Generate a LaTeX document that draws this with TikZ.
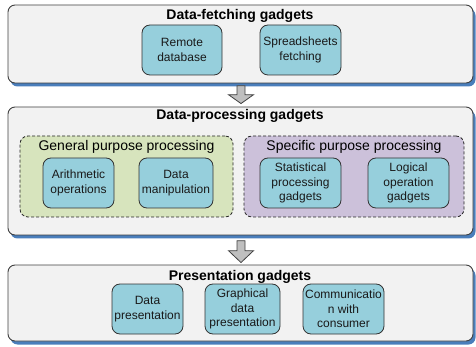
\documentclass[tikz,border=0pt]{standalone}
\usepackage{fontspec}
\setmainfont{Liberation Sans}
\usetikzlibrary{calc}
\definecolor{outerfill}{HTML}{F2F2F2}
\definecolor{outerline}{HTML}{404040}
\definecolor{shadowblue}{HTML}{4A7EBB}
\definecolor{gadgetfill}{HTML}{96CFDC}
\definecolor{greenfill}{HTML}{D7E4BD}
\definecolor{purplefill}{HTML}{CCC1DA}
\definecolor{arrowfill}{HTML}{BFBFBF}
\tikzset{
  layer/.style={draw=outerline, fill=outerfill, line width=0.9pt, rounded corners=7pt,
    minimum width=465pt, inner sep=0pt},
  layershadow/.style={fill=shadowblue, rounded corners=7pt, minimum width=465pt, inner sep=0pt},
  group/.style={draw=black!85, dashed, dash pattern=on 3pt off 2pt, line width=0.8pt,
    rounded corners=8pt, inner sep=0pt},
  gadget/.style={draw=black!80, fill=gadgetfill, line width=0.8pt, rounded corners=8pt,
    minimum height=50pt, inner sep=0pt, align=center,
    font=\fontsize{12}{14.5}\selectfont, text=black!90},
  title/.style={font=\fontsize{14}{16}\selectfont\bfseries, inner sep=0pt},
  grouptitle/.style={font=\fontsize{14}{16}\selectfont, inner sep=0pt},
  flowarrow/.style={draw=outerline, fill=arrowfill, line width=0.8pt, line join=miter}
}
\begin{document}
\begin{tikzpicture}[x=1pt, y=-1pt]
\useasboundingbox (0,0) rectangle (476,347);
% shadows
\node[layershadow, minimum height=78pt] (s1) at (243,47.5) {};
\node[layershadow, minimum height=128pt] (s2) at (243,174.5) {};
\node[layershadow, minimum height=76pt] (s3) at (243,306.5) {};
% layers
\node[layer, minimum height=78pt] (fetch) at (240.5,44) {};
\node[layer, minimum height=128pt] (proc) at (240.5,171) {};
\node[layer, minimum height=76pt] (pres) at (240.5,303) {};
% titles
\node[title] (tfetch) at (240,16) {Data-fetching gadgets};
\node[title] (tproc) at (240,116) {Data-processing gadgets};
\node[title] (tpres) at (240,277) {Presentation gadgets};
% fetching gadgets
\node[gadget, minimum width=80pt] (remote) at (182,50) {Remote\\database};
\node[gadget, minimum width=81pt] (sheets) at (300.5,50) {Spreadsheets\\fetching};
% groups
\node[group, fill=greenfill, minimum width=213pt, minimum height=81pt] (general) at (126.5,176.5) {};
\node[group, fill=purplefill, minimum width=220pt, minimum height=81pt] (specific) at (354,176.5) {};
\node[grouptitle] (tgeneral) at (126.5,147) {General purpose processing};
\node[grouptitle] (tspecific) at (354,147) {Specific purpose processing};
% processing gadgets
\node[gadget, minimum width=71pt] (arith) at (78.5,183) {Arithmetic\\operations};
\node[gadget, minimum width=74pt] (manip) at (176,183) {Data\\manipulation};
\node[gadget, minimum width=81pt] (stat) at (300.5,183) {Statistical\\processing\\gadgets};
\node[gadget, minimum width=81pt] (logic) at (408.5,183) {Logical\\operation\\gadgets};
% presentation gadgets
\node[gadget, minimum width=71pt] (datapres) at (147.5,309) {Data\\presentation};
\node[gadget, minimum width=75pt] (graph) at (242.5,309) {Graphical\\data\\presentation};
\node[gadget, minimum width=81pt] (comm) at (343.5,309) {Communicatio\\n with\\consumer};
% flow arrows
\coordinate (a1) at ($(s1.south)+(-2,0)$);
\draw[flowarrow] ($(a1)+(-4,-1)$) -- ($(a1)+(4,-1)$) -- ($(a1)+(4,8)$) -- ($(a1)+(12.5,8)$)
  -- ($(proc.north)+(0.5,-3)$) -- ($(a1)+(-12.5,8)$) -- ($(a1)+(-4,8)$) -- cycle;
\coordinate (a2) at ($(s2.south)+(-2,0)$);
\draw[flowarrow] ($(a2)+(-4,2)$) -- ($(a2)+(4,2)$) -- ($(a2)+(4,12)$) -- ($(a2)+(12.5,12)$)
  -- ($(pres.north)+(0.5,-2)$) -- ($(a2)+(-12.5,12)$) -- ($(a2)+(-4,12)$) -- cycle;
\end{tikzpicture}
\end{document}
